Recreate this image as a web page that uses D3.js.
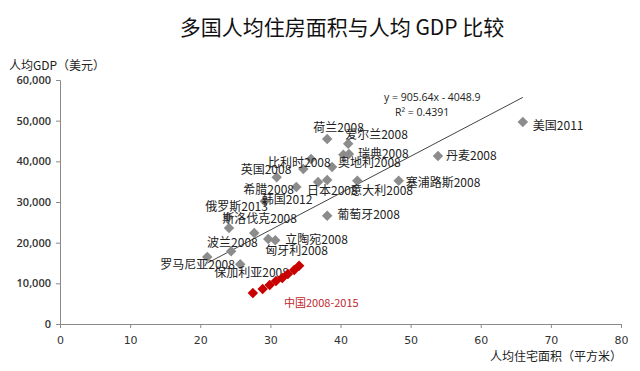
<!DOCTYPE html>
<html>
<head>
<meta charset="utf-8">
<script src="https://cdn.jsdelivr.net/npm/d3@7"></script>
<style>
  body { margin: 0; background: #fff; }
  svg { display: block; }
</style>
</head>
<body>
<div id="chart"></div>
<script>
// --- données ---
const countries = ["美国2011", "丹麦2008", "塞浦路斯2008", "意大利2008", "荷兰2008", "爱尔兰2008",
  "瑞典2008", "", "奥地利2008", "比利时2008", "", "英国2008", "日本2008", "", "希腊2008",
  "韩国2012", "俄罗斯2013", "", "斯洛伐克2008", "葡萄牙2008", "立陶宛2008", "匈牙利2008",
  "波兰2008", "罗马尼亚2008", "保加利亚2008"];
const areaX = [66.0, 53.9, 48.3, 42.4, 38.1, 41.1, 41.2, 40.4, 38.8, 35.8, 34.7, 30.9, 36.8, 38.1, 33.7,
  29.2, 24.0, 24.1, 27.7, 38.1, 30.7, 29.7, 24.4, 21.0, 25.7];
const gdpY = [49700, 41300, 35200, 35200, 45500, 44300, 41800, 41600, 38600, 40600, 38100, 36100, 34900, 35400, 33700,
  30200, 26300, 23600, 22400, 26600, 20600, 20900, 17900, 16500, 14700];

const chinaYears = [2008, 2009, 2010, 2011, 2012, 2013, 2014, 2015];
const chinaX = [27.5, 28.9, 29.9, 30.8, 31.7, 32.5, 33.4, 34.1];
const chinaY = [7600, 8600, 9600, 10600, 11300, 12300, 13300, 14300];

const xTicks = [0, 10, 20, 30, 40, 50, 60, 70, 80];
const yTicks = [0, 10000, 20000, 30000, 40000, 50000, 60000];

// tendance (Excel)
const slope = 905.64, intercept = -4048.9, r2 = 0.4391;

// décalages des étiquettes (pixels, depuis le losange) -> placement manuel comme l'original
const labelOffset = {
  "美国2011": [10, 4], "丹麦2008": [8, 0], "塞浦路斯2008": [7, 2], "意大利2008": [-7, 10],
  "荷兰2008": [-14, -11], "爱尔兰2008": [-3, -9], "瑞典2008": [9, 0], "奥地利2008": [6, -4],
  "比利时2008": [-43, 4], "英国2008": [-36, -7], "日本2008": [-11, 9], "希腊2008": [-53, 3],
  "韩国2012": [-3, -1], "俄罗斯2013": [-23, -10], "斯洛伐克2008": [-32, -14], "葡萄牙2008": [10, -1],
  "立陶宛2008": [10, 0], "匈牙利2008": [-3, 12], "波兰2008": [-24, -8], "罗马尼亚2008": [-47, 8],
  "保加利亚2008": [-26, 9]
};

const width = 640, height = 371;
const margin = {left: 60, right: 19, top: 80, bottom: 47};

const svg = d3.select("#chart").append("svg")
  .attr("width", width).attr("height", height);

const x = d3.scaleLinear().domain([0, 80]).range([margin.left, width - margin.right]);
const y = d3.scaleLinear().domain([0, 60000]).range([height - margin.bottom, margin.top]);

// Titre
svg.append("text")
  .attr("x", 342).attr("y", 35)
  .attr("text-anchor", "middle")
  .style("font-family", "'Noto Sans CJK SC'")
  .style("font-size", "21px")
  .style("fill", "#111")
  .text("多国人均住房面积与人均 GDP 比较");

// axes
const axisColor = "#8a8a8a";
const gx = svg.append("g")
  .attr("transform", `translate(0,${y(0)})`)
  .call(d3.axisBottom(x).tickValues(xTicks).tickSize(4).tickPadding(8));
const gy = svg.append("g")
  .attr("transform", `translate(${x(0)},0)`)
  .call(d3.axisLeft(y).tickValues(yTicks).tickSize(4).tickPadding(5)
    .tickFormat(d => d === 0 ? "0" : d3.format(",")(d)));

[gx, gy].forEach(g => {
  g.select(".domain").attr("stroke", axisColor);
  g.selectAll(".tick line").attr("stroke", axisColor);
});
gx.selectAll("text")
  .style("font-family", "'DejaVu Sans'")
  .style("font-size", "11px")
  .style("fill", "#333");
gy.selectAll("text")
  .style("font-family", "'Open Sans'")
  .style("font-size", "11px")
  .style("font-weight", "600")
  .style("fill", "#333");

// titres des axes
svg.append("text")
  .attr("x", 9).attr("y", 70)
  .style("font-family", "'Noto Sans CJK SC'")
  .style("font-size", "12px")
  .style("fill", "#222")
  .text("人均GDP（美元）");

svg.append("text")
  .attr("x", 622).attr("y", 361)
  .attr("text-anchor", "end")
  .style("font-family", "'Noto Sans CJK SC'")
  .style("font-size", "12px")
  .style("fill", "#222")
  .text("人均住宅面积（平方米）");

// ligne de tendance (sur l'étendue des données)
const xMin = d3.min(areaX), xMax = d3.max(areaX);
svg.append("line")
  .attr("x1", x(xMin)).attr("y1", y(slope * xMin + intercept))
  .attr("x2", x(xMax)).attr("y2", y(slope * xMax + intercept))
  .attr("stroke", "#444")
  .attr("stroke-width", 1);

const eq = svg.append("g")
  .style("font-family", "'Open Sans'")
  .style("font-size", "10.5px")
  .style("fill", "#222");
eq.append("text").attr("x", 384).attr("y", 101)
  .text(`y = ${slope}x - ${Math.abs(intercept)}`);
eq.append("text").attr("x", 395).attr("y", 116)
  .text(`R² = ${r2}`);

// points pays
const points = countries.map((c, i) => ({name: c, x: areaX[i], y: gdpY[i]}));
const diamond = d3.symbol().type(d3.symbolSquare).size(55);

svg.selectAll(".pt")
  .data(points)
  .enter()
  .append("path")
  .attr("class", "pt")
  .attr("d", diamond)
  .attr("transform", d => `translate(${x(d.x)},${y(d.y)}) rotate(45)`)
  .attr("fill", "#8c8c8c");

svg.selectAll(".lbl")
  .data(points.filter(d => d.name))
  .enter()
  .append("text")
  .attr("class", "lbl")
  .attr("x", d => x(d.x) + labelOffset[d.name][0])
  .attr("y", d => y(d.y) + labelOffset[d.name][1])
  .attr("dy", "0.35em")
  .style("font-family", "'Noto Sans CJK SC'")
  .style("font-size", "12px")
  .style("fill", "#222")
  .text(d => d.name);

// Chine
const china = chinaYears.map((yr, i) => ({year: yr, x: chinaX[i], y: chinaY[i]}));
svg.selectAll(".cn")
  .data(china)
  .enter()
  .append("path")
  .attr("class", "cn")
  .attr("d", diamond)
  .attr("transform", d => `translate(${x(d.x)},${y(d.y)}) rotate(45)`)
  .attr("fill", "#c80000");

svg.append("text")
  .attr("x", 284).attr("y", 303)
  .attr("dy", "0.35em")
  .style("font-family", "'Noto Sans CJK SC'")
  .style("font-size", "11px")
  .style("fill", "#c0272d")
  .text(`中国${chinaYears[0]}-${chinaYears[chinaYears.length - 1]}`);
</script>
</body>
</html>
